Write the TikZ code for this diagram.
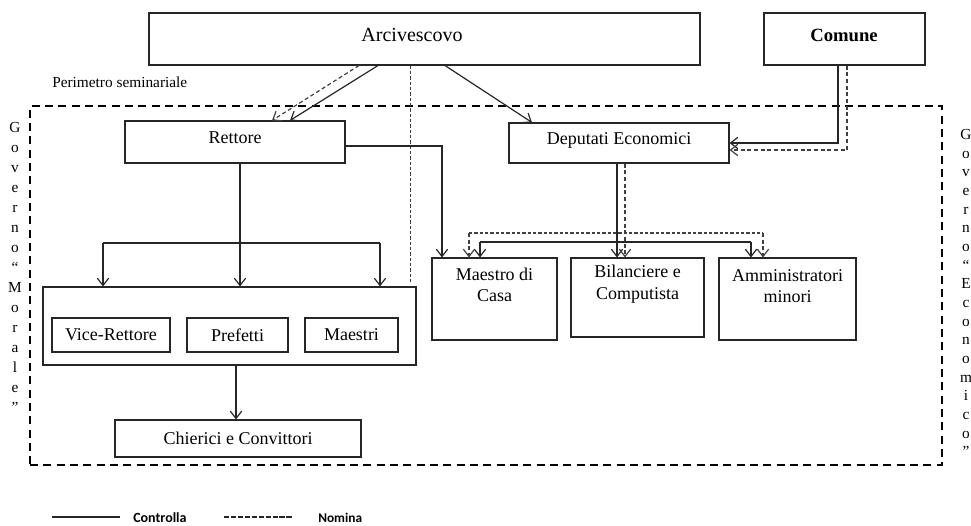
\documentclass[tikz,border=0pt]{standalone}
\usepackage{fontspec}
\setmainfont{Liberation Serif}
\newfontfamily\legfont{Carlito}
\usetikzlibrary{arrows.meta,fit,calc}
\tikzset{
  box/.style={draw=black!85, line width=0.8pt, inner sep=0pt, rectangle},
  txt/.style={inner sep=0pt, font=\fontsize{13.5pt}{16pt}\selectfont, align=center},
  ctrl/.style={draw=black!85, line width=0.9pt, -{Straight Barb[length=5.5pt,width=8.5pt]}},
  ctrlline/.style={draw=black!85, line width=0.9pt},
  nom/.style={draw=black!75, line width=0.9pt, dash pattern=on 3pt off 2pt, -{Straight Barb[length=5.5pt,width=8.5pt]}},
  nomline/.style={draw=black!75, line width=0.9pt, dash pattern=on 3pt off 2pt},
  nomthin/.style={draw=black!75, line width=0.5pt, dash pattern=on 2.5pt off 1.5pt},
  perimstyle/.style={draw=black, line width=1.6pt, dash pattern=on 6pt off 4pt, inner sep=0pt, rectangle},
}
\begin{document}
\begin{tikzpicture}[x=0.75pt,y=-0.75pt]
\useasboundingbox (0,0) rectangle (971,525);

% boxes
\node[box, fit={(149,13) (700,65)}] (arc) {};
\node[txt, font=\fontsize{15pt}{18pt}\selectfont] (arct) at (412,35) {Arcivescovo};
\node[box, fit={(764,13) (925,65)}] (com) {};
\node[txt, font=\fontsize{14pt}{16pt}\selectfont\bfseries] (comt) at (844,35) {Comune};

\node[anchor=west, inner sep=0pt, font=\fontsize{11.5pt}{13pt}\selectfont] (pert) at (52,82) {Perimetro seminariale};
\node[perimstyle, fit={(30,106) (942,465)}] (perim) {};

\node[box, fit={(125,121) (345,163)}] (ret) {};
\node[txt] (rett) at (235,138) {Rettore};
\node[box, fit={(509,123) (729,163)}] (dep) {};
\node[txt] (dept) at (619,140) {Deputati Economici};

\node[box, fit={(43,287) (416,365)}] (grp) {};
\node[box, fit={(52,318) (170,352)}] (vr) {};
\node[txt] (vrt) at (111,335) {Vice-Rettore};
\node[box, fit={(187,318) (288,352)}] (pref) {};
\node[txt] (preft) at (237.5,335) {Prefetti};
\node[box, fit={(305,318) (398,352)}] (mae) {};
\node[txt] (maet) at (351.5,335) {Maestri};
\node[box, fit={(115,420) (361,457)}] (chi) {};
\node[txt] (chit) at (238,438) {Chierici e Convittori};

\node[box, fit={(432,258) (557,340)}] (mdc) {};
\node[txt] (mdct) at (494.5,285) {Maestro di\\Casa};
\node[box, fit={(571,258) (704,337)}] (bil) {};
\node[txt] (bilt) at (637.5,284) {Bilanciere e\\Computista};
\node[box, fit={(719,258) (856,340)}] (amm) {};
\node[txt] (ammt) at (787.5,286) {Amministratori\\minori};

% side labels
\node[inner sep=0pt, align=center, font=\fontsize{11.5pt}{15pt}\selectfont] (govm) at (15,267)
 {G\\o\\v\\e\\r\\n\\o\\“\\M\\o\\r\\a\\l\\e\\”};
\node[inner sep=0pt, align=center, font=\fontsize{11.5pt}{14pt}\selectfont] (gove) at (966,293)
 {G\\o\\v\\e\\r\\n\\o\\“\\E\\c\\o\\n\\o\\m\\i\\c\\o\\”};

% Arcivescovo connectors
\draw[ctrl] ($(arc.south)+(-46.5,0)$) -- ($(ret.north)+(55,0)$);
\draw[nom] ($(arc.south)+(-65.5,0)$) -- ($(ret.north)+(37,0)$);
\draw[ctrl] ($(arc.south)+(20.5,0)$) -- ($(dep.north)+(-87,0)$);
\coordinate (vdTop) at ($(arc.south)+(-14.5,0)$);
\coordinate (vdEnd) at ($(grp.north)+(180.5,-4)$);
\draw[nomthin] (vdTop) -- (vdEnd);

% Rettore to group
\coordinate (rbL) at (103,243);
\coordinate (rbR) at (380,243);
\draw[ctrlline] (rbL) -- (rbR);
\draw[ctrl] ($(ret.south)+(5,0)$) -- ($(grp.north)+(10.5,0)$);
\draw[ctrl] (rbL) -- (rbL |- grp.north);
\draw[ctrl] (rbR) -- (rbR |- grp.north);

% group to Chierici
\coordinate (gs) at ($(grp.south)+(6.5,0)$);
\draw[ctrl] (gs) -- (gs |- chi.north);

% Rettore to Maestro di Casa
\draw[ctrl] ($(ret.east)+(0,4)$) -| ($(mdc.north)+(-52.5,0)$);

% Deputati to lower boxes
\draw[ctrl] ($(dep.south)+(-2,0)$) -- ($(bil.north)+(-20.5,0)$);
\draw[nom] ($(dep.south)+(6,0)$) -- ($(bil.north)+(-12.5,0)$);
\coordinate (sbL) at (480,242);
\coordinate (sbR) at (751,242);
\draw[ctrlline] (sbL) -- (sbR);
\draw[ctrl] (sbL) -- (sbL |- mdc.north);
\draw[ctrl] (sbR) -- (sbR |- amm.north);
\coordinate (dbL) at (469,233);
\coordinate (dbR) at (763,233);
\draw[nomthin, line width=0.8pt] (dbL) -- (dbR);
\draw[nom] (dbL) -- (dbL |- mdc.north);
\draw[nom] (dbR) -- (dbR |- amm.north);

% Comune to Deputati
\draw[ctrl] ($(com.south)+(-6.5,0)$) |- (dep.east);
\draw[nom] ($(com.south)+(2.5,0)$) |- ($(dep.east)+(0,7)$);

% legend
\coordinate (l1a) at (52,517);
\coordinate (l1b) at (120,517);
\draw[ctrlline] (l1a) -- (l1b);
\node[anchor=west, inner sep=0pt, font=\legfont\bfseries\fontsize{10.5pt}{12pt}\selectfont] (lct) at (133,518) {Controlla};
\coordinate (l2a) at (224,517);
\coordinate (l2b) at (293,517);
\draw[draw=black!85, line width=0.8pt, dash pattern=on 4pt off 1.2pt] (l2a) -- (l2b);
\node[anchor=west, inner sep=0pt, font=\legfont\bfseries\fontsize{10pt}{12pt}\selectfont] (lnt) at (318,518) {Nomina};
\end{tikzpicture}
\end{document}
